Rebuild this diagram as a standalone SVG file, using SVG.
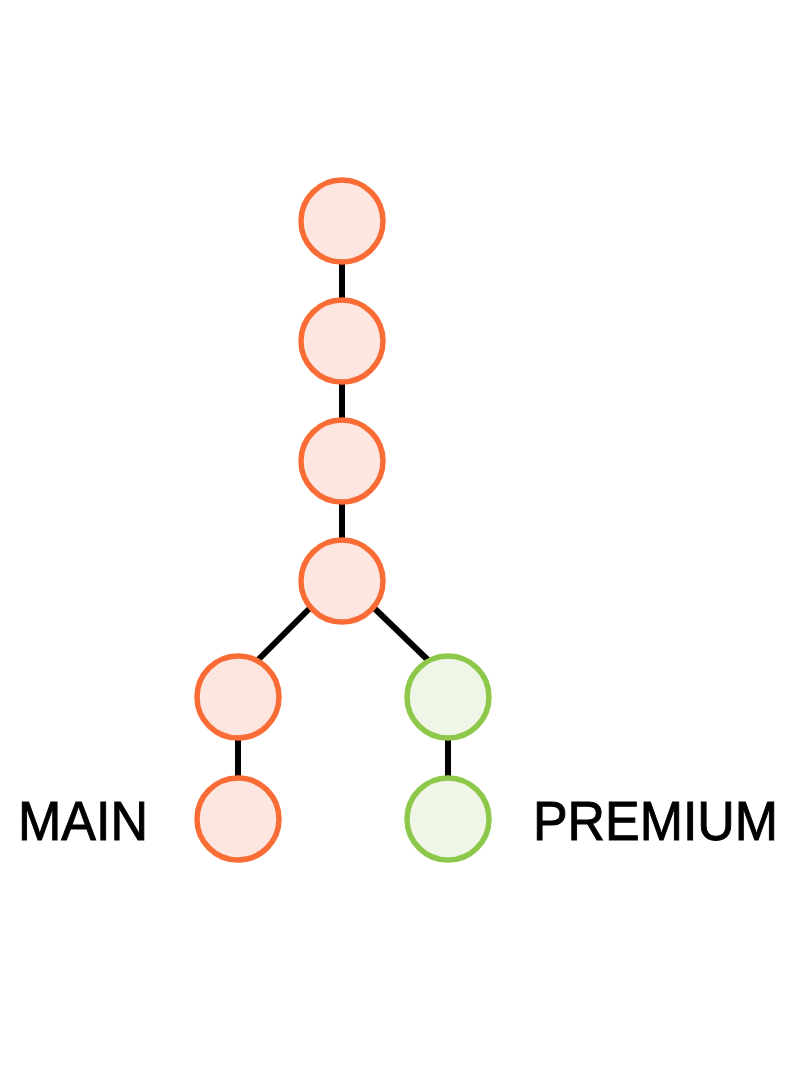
<svg xmlns="http://www.w3.org/2000/svg" width="792" height="1074" viewBox="0 0 792 1074">
<style>
.e{stroke:#000;stroke-width:6;fill:none}
.o{fill:#FDE6DF;stroke:#FA6C35;stroke-width:5.5}
.g{fill:#F0F6E7;stroke:#8DC84A;stroke-width:5.5}
.t{font-family:"Liberation Sans",Arial,sans-serif;font-size:56px;fill:#000;stroke:#000;stroke-width:1}
</style>
<rect width="792" height="1074" fill="#fff"/>
<g id="connectors">
<line class="e" x1="342" y1="221" x2="342" y2="581"/>
<line class="e" x1="312" y1="606" x2="256" y2="662"/>
<line class="e" x1="372" y1="606" x2="430" y2="662"/>
<line class="e" x1="238" y1="697" x2="238" y2="819"/>
<line class="e" x1="448" y1="697" x2="448" y2="819"/>
</g>
<g id="n1"><circle class="o" cx="342" cy="221" r="41"/></g>
<g id="n2"><circle class="o" cx="342" cy="341" r="41"/></g>
<g id="n3"><circle class="o" cx="342" cy="461" r="41"/></g>
<g id="n4"><circle class="o" cx="342" cy="581" r="41"/></g>
<g id="n5"><circle class="o" cx="238" cy="697" r="41"/></g>
<g id="n6"><circle class="o" cx="238" cy="819" r="41"/></g>
<g id="n7"><circle class="g" cx="448" cy="697" r="41"/></g>
<g id="n8"><circle class="g" cx="448" cy="819" r="41"/></g>
<g id="label-main"><text class="t" x="18" y="840" textLength="130" lengthAdjust="spacingAndGlyphs">MAIN</text></g>
<g id="label-premium"><text class="t" x="533" y="840" textLength="245" lengthAdjust="spacingAndGlyphs">PREMIUM</text></g>
</svg>
